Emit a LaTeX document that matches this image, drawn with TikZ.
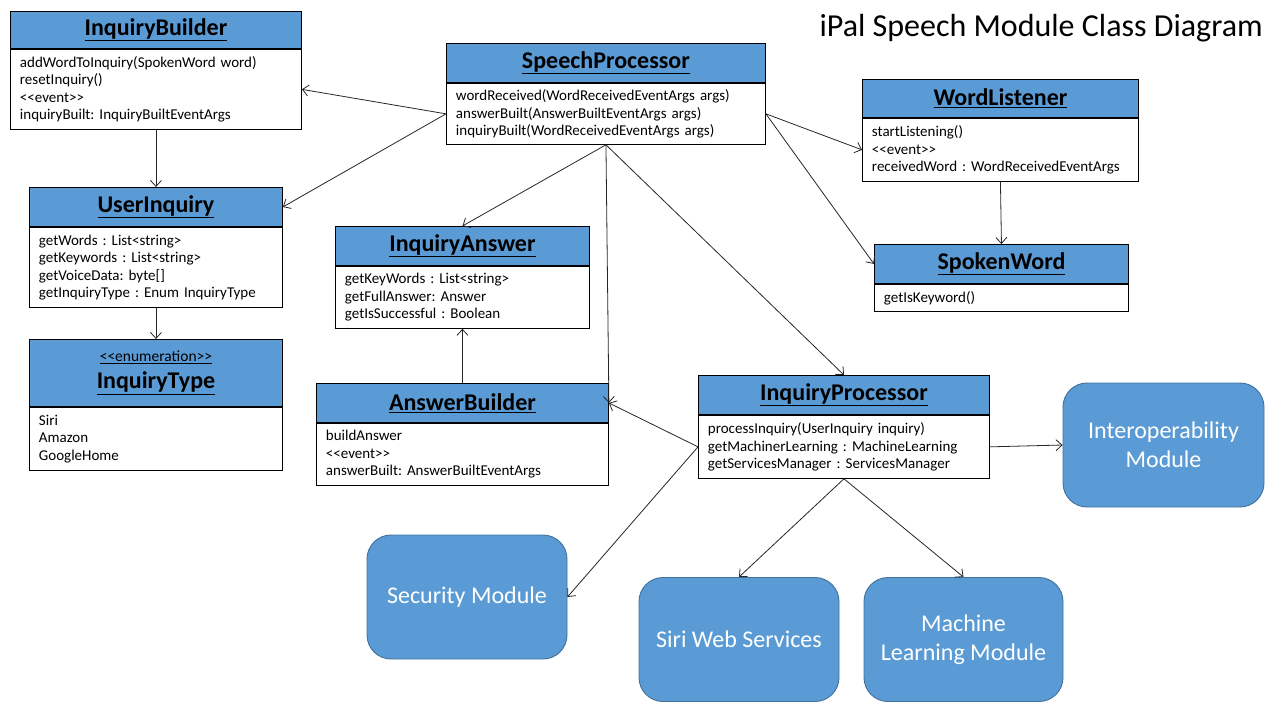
\documentclass[tikz,border=0pt]{standalone}
\usepackage{fontspec}
\setmainfont{Carlito}
\frenchspacing
\usetikzlibrary{arrows.meta, positioning}
\definecolor{umlblue}{HTML}{5B9BD5}
\definecolor{modline}{HTML}{41719C}
\tikzset{
    headnode/.style = {draw, rectangle, fill=umlblue, inner sep=0em, line width=0.9pt, anchor=north west,
      align=center, font=\fontsize{24}{27}\selectfont\bfseries},
    bodynode/.style = {draw, rectangle, fill=white, inner xsep=9.5pt, inner ysep=0pt, line width=0.9pt,
      align=left, font=\fontsize{15}{17.5}\selectfont},
    modulenode/.style = {draw=modline, fill=umlblue, rectangle, rounded corners=24pt, line width=0.9pt,
      text=white, align=center, minimum width=200, minimum height=124, font=\fontsize{24}{29}\selectfont},
    textnode/.style = {draw=none, fill=none, rectangle, inner sep=0em},
    divider/.style = {black, line width=2pt},
    connect/.style = {black!85, line width=0.8pt, -{Straight Barb[length=6pt, width=11pt]}}
}
\newcommand{\cname}[1]{\underline{#1}}

\begin{document}
\begin{tikzpicture}[x=1pt, y=-1pt]
    \useasboundingbox (0,0) rectangle (1280,720);

    \node [name=title, textnode, anchor=east, font=\fontsize{32}{36}\selectfont] at (1263,28)
        {iPal Speech Module Class Diagram};

    % classes
    \node [name=ibhead, headnode, minimum width=291, minimum height=37] at (10,11) {\cname{InquiryBuilder}};
    \node [name=ibbody, bodynode, text width=272, minimum height=80, below=0pt of ibhead]
        {addWordToInquiry(SpokenWord word)\\ resetInquiry()\\ <{}<event>{}>\\ inquiryBuilt: InquiryBuiltEventArgs};

    \node [name=sphead, headnode, minimum width=319, minimum height=39] at (446,43) {\cname{SpeechProcessor}};
    \node [name=spbody, bodynode, text width=300, minimum height=61, below=0pt of sphead]
        {wordReceived(WordReceivedEventArgs args)\\ answerBuilt(AnswerBuiltEventArgs args)\\
         inquiryBuilt(WordReceivedEventArgs args)};

    \node [name=wlhead, headnode, minimum width=276, minimum height=38] at (862,79) {\cname{WordListener}};
    \node [name=wlbody, bodynode, text width=257, minimum height=63, below=0pt of wlhead]
        {startListening()\\ <{}<event>{}>\\ receivedWord : WordReceivedEventArgs};

    \node [name=uihead, headnode, minimum width=253, minimum height=39] at (29,187) {\cname{UserInquiry}};
    \node [name=uibody, bodynode, text width=234, minimum height=80, below=0pt of uihead]
        {getWords : List<string>\\ getKeywords : List<string>\\ getVoiceData: byte[]\\
         getInquiryType : Enum InquiryType};

    \node [name=iahead, headnode, minimum width=254, minimum height=39] at (335,226) {\cname{InquiryAnswer}};
    \node [name=iabody, bodynode, text width=235, minimum height=62, below=0pt of iahead]
        {getKeyWords : List<string>\\ getFullAnswer: Answer\\ getIsSuccessful : Boolean};

    \node [name=swhead, headnode, minimum width=254, minimum height=39] at (874,244) {\cname{SpokenWord}};
    \node [name=swbody, bodynode, text width=235, minimum height=27, below=0pt of swhead]
        {getIsKeyword()};

    \node [name=ithead, headnode, minimum width=253, minimum height=67, font=\fontsize{24}{27}\selectfont\bfseries]
        at (29,339) {{\fontsize{15.5}{27}\selectfont\mdseries\cname{<{}<enumeration>{}>}}\\ \cname{InquiryType}};
    \node [name=itbody, bodynode, text width=234, minimum height=63, below=0pt of ithead]
        {Siri\\ Amazon\\ GoogleHome};

    \node [name=abhead, headnode, minimum width=292, minimum height=39] at (316,383) {\cname{AnswerBuilder}};
    \node [name=abbody, bodynode, text width=273, minimum height=62, below=0pt of abhead]
        {buildAnswer\\ <{}<event>{}>\\ answerBuilt: AnswerBuiltEventArgs};

    \node [name=iphead, headnode, minimum width=291, minimum height=39] at (698,375) {\cname{InquiryProcessor}};
    \node [name=ipbody, bodynode, text width=272, minimum height=63, below=0pt of iphead]
        {processInquiry(UserInquiry inquiry)\\ getMachinerLearning : MachineLearning\\
         getServicesManager : ServicesManager};

    \foreach \cls in {ib, sp, wl, ui, ia, sw, it, ab, ip}
        \draw [divider] (\cls head.south west) -- (\cls head.south east);

    % modules
    \node [name=interop, modulenode, minimum width=201] at (1163.5,445) {Interoperability\\ Module};
    \node [name=secmod, modulenode] at (467,597) {Security Module};
    \node [name=siri, modulenode] at (739,639.5) {Siri Web Services};
    \node [name=mlmod, modulenode, minimum width=199] at (963.5,639.5) {Machine\\ Learning Module};

    % connectors
    \draw [connect] (spbody.west) -- (ibbody.east);
    \draw [connect] (spbody.west) -- (uihead.east);
    \draw [connect] (ibbody.south) -- (uihead.north);
    \draw [connect] (uibody.south) -- (ithead.north);
    \draw [connect] (spbody.south) -- (iahead.north);
    \draw [connect] (spbody.south) -- (abhead.east);
    \draw [connect] (spbody.south) -- (iphead.north);
    \draw [connect] (spbody.east) -- (wlbody.west);
    \draw [connect] (spbody.east) -- (swhead.west);
    \draw [connect] (wlbody.south) -- (swhead.north);
    \draw [connect] (abhead.north) -- (iabody.south);
    \draw [connect] (ipbody.west) -- (abhead.east);
    \draw [connect] (ipbody.west) -- (secmod.east);
    \draw [connect] (ipbody.south) -- (siri.north);
    \draw [connect] (ipbody.south) -- (mlmod.north);
    \draw [connect] (ipbody.east) -- (interop.west);
\end{tikzpicture}
\end{document}
